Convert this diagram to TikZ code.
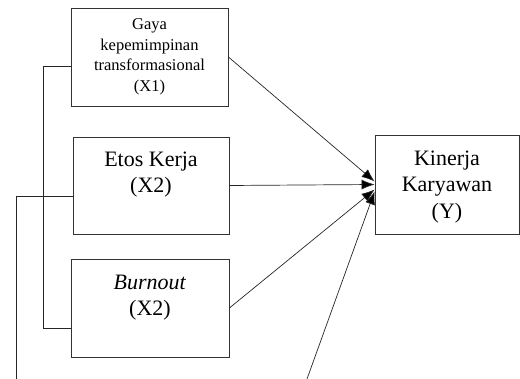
\documentclass[tikz,border=0pt]{standalone}
\usepackage{fontspec}
\setmainfont{Liberation Serif}
\usetikzlibrary{positioning, arrows.meta}

\begin{document}
\begin{tikzpicture}[x=1pt,y=-1pt,>={Latex[length=13pt,width=10pt]},
        var/.style={draw=black!80,line width=0.8pt,align=center,inner sep=2pt,
          font=\fontsize{22}{26.5}\selectfont},
        smalltext/.style={font=\fontsize{16.5}{20.5}\selectfont},
        link/.style={line width=0.7pt,draw=black!85}]
        \useasboundingbox (0,0) rectangle (520,379);
        \node[var,smalltext,minimum width=157pt,minimum height=98pt] (x_1) at (149.5,57)
          {Gaya\\kepemimpinan\\transformasional\\(X1)};
        \node[var,minimum width=156pt,minimum height=97pt,text depth=27pt] (x_2) at (151,185.5)
          {Etos Kerja\\(X2)};
        \node[var,minimum width=158pt,minimum height=98pt,text depth=25pt] (x_3) at (150,308)
          {\textit{Burnout}\\(X2)};
        \node[var,minimum width=144pt,minimum height=99pt,text depth=-3pt] (y) at (447,184.5)
          {Kinerja\\Karyawan\\(Y)};
        \coordinate (bot_in) at (307,379);
        \coordinate (bot_left) at (16,379);
        \path[->,link]
        (x_1.east) edge ([yshift=3pt]y.west)
        (x_2.east) edge (y.west)
        (x_3.east) edge ([yshift=-5pt]y.west)
        (bot_in) edge ([yshift=-7pt]y.west);
        \draw[link] ([yshift=-9pt]x_1.west) -| (43,328) -- ([yshift=-20pt]x_3.west);
        \draw[link] ([yshift=-10.5pt]x_2.west) -| (bot_left);
      \end{tikzpicture}
\end{document}
